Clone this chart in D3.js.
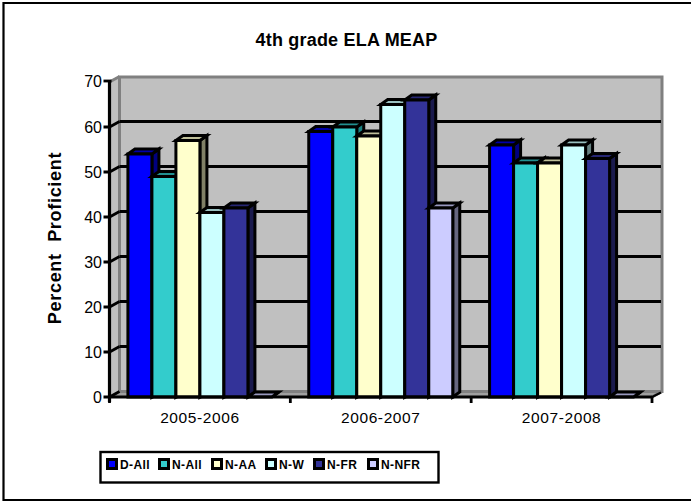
<!DOCTYPE html>
<html><head><meta charset="utf-8">
<script src="https://cdn.jsdelivr.net/npm/d3@7"></script>
<style>html,body{margin:0;padding:0;background:#fff}svg{display:block}text{font-family:"Liberation Sans",Arial,sans-serif;fill:#000}</style>
</head><body><svg id="c" width="691" height="502"></svg>
<script>
const categories = ["2005-2006","2006-2007","2007-2008"];
const seriesNames = ["D-All","N-All","N-AA","N-W","N-FR","N-NFR"];
const dAll = [54,59,56];
const nAll = [49,60,52];
const nAA = [57,58,52];
const nW = [41,65,56];
const nFR = [42,66,53];
const nNFR = [0,42,0];
const allValues = [dAll,nAll,nAA,nW,nFR,nNFR];
const frontColors = ["#0000ff","#33cccc","#ffffcc","#ccffff","#333399","#ccccff"];
const topColors = ["#0000a8","#229090","#bfbf99","#99c0c0","#262673","#9999bf"];
const sideColors = ["#000080","#1a8080","#808066","#668080","#1a1a4d","#666680"];
const yTicks = [0,10,20,30,40,50,60,70];

const svg = d3.select("#c");
const L=109.5,R=652,B=397,T=82,DX=10,DY=5.5,BDX=7,BDY=5;
const x = d3.scaleBand().domain(categories).range([L,R]);
const y = d3.scaleLinear().domain([0,70]).range([B,T]);
const bw = 24;
const inner = d3.scaleBand().domain(seriesNames).range([(x.bandwidth()-bw*6)/2,(x.bandwidth()+bw*6)/2]);

// frame (open on the right, as in the source)
svg.append("path").attr("d","M691,3 H3.5 V500 H691").attr("fill","none").attr("stroke","#000").attr("stroke-width",2.2);

// side wall and floor
svg.append("path").attr("d",`M${L},${T} L${L+DX},${T-DY} V${B-DY} L${L},${B} Z`).attr("fill","#c0c0c0");
svg.append("path").attr("d",`M${L},${B} L${L+DX},${B-DY} H${R+DX} L${R},${B} Z`).attr("fill","#a0a0a0");
// back wall
svg.append("rect").attr("x",L+DX).attr("y",T-DY+0.5).attr("width",R-L).attr("height",B-T-0.5)
  .attr("fill","#c0c0c0").attr("stroke","#808080").attr("stroke-width",3);
svg.append("path").attr("d",`M${L},${T} L${L+DX},${T-DY}`).attr("stroke","#808080").attr("stroke-width",3);
svg.append("path").attr("d",`M${R},${B} L${R+DX},${B-DY}`).attr("stroke","#808080").attr("stroke-width",3);

// gridlines and their side-wall continuation
svg.append("g").selectAll("path").data(yTicks.filter(d=>d>0&&d<70)).join("path")
  .attr("d",d=>`M${L+DX},${y(d)-DY} H${R+DX-1}`).attr("stroke","#000").attr("stroke-width",3).attr("fill","none");
svg.append("g").selectAll("path").data(yTicks).join("path")
  .attr("d",d=>d===70?`M${L-6},${y(d)-1} H${L+2}`:`M${L-6},${y(d)} H${L} L${L+DX},${y(d)-DY}`)
  .attr("stroke","#000").attr("stroke-width",2.8).attr("fill","none");

// bars
const rows=[];
categories.forEach((c,i)=>seriesNames.forEach((s,j)=>rows.push({c,s,j,v:allValues[j][i]})));
const bars = svg.append("g").selectAll("g").data(rows).join("g")
  .attr("stroke","#000").attr("stroke-width",3).attr("stroke-linejoin","miter");
const bx = d=>x(d.c)+inner(d.s);
bars.append("path").attr("fill",d=>sideColors[d.j])
  .attr("d",d=>`M${bx(d)+bw},${y(d.v)} L${bx(d)+bw+BDX},${y(d.v)-BDY} V${B-BDY} L${bx(d)+bw},${B} Z`);
bars.append("path").attr("fill",d=>topColors[d.j])
  .attr("d",d=>`M${bx(d)},${y(d.v)} L${bx(d)+BDX},${y(d.v)-BDY} H${bx(d)+bw+BDX} L${bx(d)+bw},${y(d.v)} Z`);
bars.filter(d=>d.v>0).append("rect").attr("fill",d=>frontColors[d.j])
  .attr("x",bx).attr("y",d=>y(d.v)).attr("width",bw).attr("height",d=>B-y(d.v));

// axes
svg.append("path").attr("d",`M${L},${T-1} V${B+5}`).attr("stroke","#000").attr("stroke-width",3.2).attr("fill","none");
svg.append("path").attr("d",`M${L},${B} H${R}`).attr("stroke","#000").attr("stroke-width",3).attr("fill","none");
const xEdges=[...categories.map(c=>x(c)),R];
svg.append("g").selectAll("path").data(xEdges).join("path")
  .attr("d",d=>`M${d},${B} V${B+6}`).attr("stroke","#000").attr("stroke-width",2.8);
svg.append("path").attr("d",`M${R},${B} L${R+DX-1},${B-DY+1}`).attr("stroke","#000").attr("stroke-width",2);

// tick labels
svg.append("g").selectAll("text").data(yTicks).join("text")
  .attr("x",L-7.5).attr("y",d=>y(d)+(d===70?-1:0)+5.5).attr("text-anchor","end").attr("font-size",16).text(d=>d);
svg.append("g").selectAll("text").data(categories).join("text")
  .attr("x",d=>x(d)+x.bandwidth()/2).attr("y",422.5).attr("text-anchor","middle").attr("font-size",15.5).attr("letter-spacing",0.6).text(d=>d);

// titles
svg.append("text").attr("x",346.5).attr("y",46).attr("text-anchor","middle").attr("font-size",18).attr("font-weight","bold").attr("letter-spacing",0.2).text("4th grade ELA MEAP");
svg.append("text").attr("transform","translate(60.5,238) rotate(-90)").attr("text-anchor","middle").attr("font-size",18).attr("font-weight","bold").attr("letter-spacing",0.7).style("white-space","pre").text("Percent  Proficient");

// legend
svg.append("rect").attr("x",100.5).attr("y",452).attr("width",338).attr("height",30.5).attr("fill","#fff").attr("stroke","#000").attr("stroke-width",2.4);
const legendX = d3.scaleOrdinal().domain(seriesNames).range([106,158,211,265,313,367]);
const lg = svg.append("g").selectAll("g").data(seriesNames).join("g");
lg.append("rect").attr("x",d=>legendX(d)+1.5).attr("y",459.5).attr("width",9).attr("height",9)
  .attr("fill",(d,i)=>frontColors[i]).attr("stroke","#000").attr("stroke-width",3);
lg.append("text").attr("x",d=>legendX(d)+14).attr("y",468.5).attr("font-size",12).attr("font-weight","bold").attr("letter-spacing",0.4).text(d=>d);
</script></body></html>
